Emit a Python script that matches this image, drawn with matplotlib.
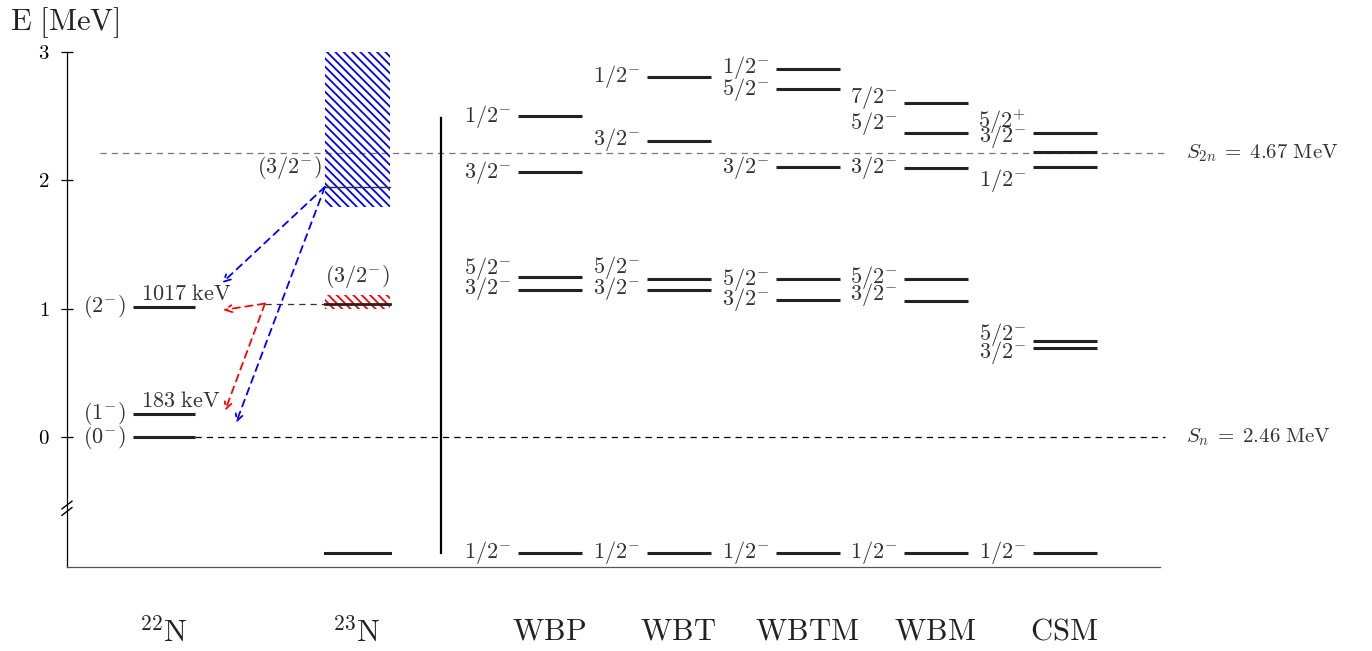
import matplotlib
matplotlib.use("Agg")
import matplotlib.pyplot as plt

plt.rcParams['font.family'] = 'serif'
plt.rcParams['font.serif'] = ['cmr10', 'DejaVu Serif']
plt.rcParams['mathtext.fontset'] = 'cm'
plt.rcParams['axes.formatter.use_mathtext'] = True
plt.rcParams['hatch.linewidth'] = 1.3

# energie poziomow [MeV] (wzgledem progu S_n w 23N)
e22 = [0.0, 0.183, 1.017]
lab22 = [r'$(0^{-})$', r'$(1^{-})$', r'$(2^{-})$']
kev22 = ['', r'$183\ \mathrm{keV}$', r'$1017\ \mathrm{keV}$']

e23_ground = -0.9
e23_blue = 1.95
blue_band = (1.79, 3.0)
e23_red = 1.04
red_band = (1.0, 1.11)

models = ['WBP', 'WBT', 'WBTM', 'WBM', 'CSM']
levels = {
    'WBP':  [-0.9, 1.146, 1.247, 2.065, 2.50],
    'WBT':  [-0.9, 1.146, 1.231, 2.307, 2.806],
    'WBTM': [-0.9, 1.068, 1.231, 2.104, 2.712, 2.868],
    'WBM':  [-0.9, 1.060, 1.231, 2.097, 2.369, 2.603],
    'CSM':  [-0.9, 0.694, 0.748, 2.104, 2.221, 2.369],
}
spins = {
    'WBP':  ['1/2^{-}', '3/2^{-}', '5/2^{-}', '3/2^{-}', '1/2^{-}'],
    'WBT':  ['1/2^{-}', '3/2^{-}', '5/2^{-}', '3/2^{-}', '1/2^{-}'],
    'WBTM': ['1/2^{-}', '3/2^{-}', '5/2^{-}', '3/2^{-}', '5/2^{-}', '1/2^{-}'],
    'WBM':  ['1/2^{-}', '3/2^{-}', '5/2^{-}', '3/2^{-}', '5/2^{-}', '7/2^{-}'],
    'CSM':  ['1/2^{-}', '3/2^{-}', '5/2^{-}', '1/2^{-}', '3/2^{-}', '5/2^{+}'],
}
# przesuniecia etykiet w pionie [pt], zeby sie nie nakladaly
nudge = {
    'WBP':  [0, 1, 6, 0, 0],
    'WBT':  [0, 1, 8, 1, 0],
    'WBTM': [0, 0, 0, 0, 0, 1],
    'WBM':  [0, 5, 1, 0, 7, 4],
    'CSM':  [0, -3, 5, -10, 11, 8],
}

s2n = 2.213
s2n_lab = r'$S_{2n}\;=\;4.67\ \mathrm{MeV}$'
sn_lab = r'$S_n\;=\;2.46\ \mathrm{MeV}$'

# polozenia kolumn (lewa krawedz, szerokosc) w jednostkach osi x
x22 = (66, 62)
x23 = (258, 65)
xmod = {'WBP': 451, 'WBT': 580, 'WBTM': 709, 'WBM': 837, 'CSM': 966}
wmod = 64

fig = plt.figure(figsize=(13.72, 6.51), dpi=100)
ax = fig.add_axes([0.0488, 0.129, 0.7966, 0.791])
ax.set_xlim(0, 1093)
ax.set_ylim(-1.013, 3.0)

# progi
ax.plot([33, 1098], [s2n, s2n], ls=(0, (5, 4)), color='#777777', lw=0.9, clip_on=False, zorder=1)
ax.plot([128, 1098], [0, 0], ls=(0, (5, 4)), color='black', lw=0.9, clip_on=False, zorder=1)
ax.text(1119, s2n, s2n_lab, fontsize=15, va='center', ha='left', color='#333333')
ax.text(1119, 0, sn_lab, fontsize=15, va='center', ha='left', color='#333333')

# 22N
for e, lb, kv in zip(e22, lab22, kev22):
    ax.plot([x22[0], x22[0] + x22[1]], [e, e], color='#222222', lw=2.2, solid_capstyle='butt')
    ax.text(x22[0] - 7, e, lb, fontsize=16, ha='right', va='center', color='#333333')
    if kv:
        ax.text(x22[0] + 8, e + 0.02, kv, fontsize=16, ha='left', va='bottom', color='#333333')

# 23N
ax.plot([x23[0], x23[0] + x23[1]], [e23_ground, e23_ground], color='#222222', lw=2.2)
ax.fill_between([x23[0], x23[0] + x23[1]], blue_band[0], blue_band[1], facecolor='none',
                edgecolor='blue', hatch='\\' * 4, lw=0, zorder=2)
ax.plot([x23[0], x23[0] + x23[1]], [e23_blue, e23_blue], color='#333333', lw=1.0, zorder=3)
ax.text(x23[0] - 3, e23_blue + 0.15, r'$(3/2^{-})$', fontsize=16, ha='right', va='center', color='#333333')
ax.fill_between([x23[0], x23[0] + x23[1]], red_band[0], red_band[1], facecolor='none',
                edgecolor='red', hatch='\\' * 4, lw=0, zorder=2)
ax.plot([x23[0], x23[0] + x23[1]], [e23_red, e23_red], color='#222222', lw=2.0, zorder=3)
ax.text(x23[0] + x23[1] / 2, 1.25, r'$(3/2^{-})$', fontsize=16, ha='center', va='center', color='#333333')
ax.plot([198, 258], [e23_red, e23_red], ls=(0, (5, 4)), color='#333333', lw=0.9)

# przejscia
arr = [((258, e23_blue), (155, 1.20), 'blue'),
       ((258, e23_blue), (169, 0.109), 'blue'),
       ((198, e23_red), (156, 0.99), 'red'),
       ((198, e23_red), (158, 0.203), 'red')]
for start, end, c in arr:
    ax.annotate('', xy=end, xytext=start,
                arrowprops=dict(arrowstyle='->,head_length=0.5,head_width=0.25', ls=(0, (4, 3)),
                                color=c, lw=1.3, shrinkA=0, shrinkB=0))

ax.plot([374, 374], [-0.9, 2.49], color='black', lw=1.6)

# modele
for m in models:
    x0 = xmod[m]
    for e, s, dy in zip(levels[m], spins[m], nudge[m]):
        ax.plot([x0, x0 + wmod], [e, e], color='#222222', lw=2.2, solid_capstyle='butt')
        ax.annotate(r'$' + s + r'$', xy=(x0 - 7, e), xytext=(0, dy), textcoords='offset points',
                    fontsize=16, ha='right', va='center', color='#333333')

# podpisy kolumn
names = [r'$^{22}\mathrm{N}$', r'$^{23}\mathrm{N}$'] + [r'$\mathrm{' + m + '}$' for m in models]
cx = [96, 289] + [xmod[m] + wmod / 2 - 1 for m in models]
for n, x in zip(names, cx):
    ax.text(x, -1.52, n, fontsize=22, ha='center', va='center', color='#222222')

fig.text(0.007, 0.966, r'$\mathrm{E\ [MeV]}$', fontsize=22, ha='left', va='center', color='#222222')

ax.spines['top'].set_visible(False)
ax.spines['right'].set_visible(False)
ax.spines['left'].set_linewidth(0.9)
ax.spines['bottom'].set_linewidth(0.9)
ax.spines['bottom'].set_color('#555555')
ax.set_xticks([])
ax.set_yticks([0, 1, 2, 3])
ax.set_yticklabels([r'$0$', r'$1$', r'$2$', r'$3$'])
ax.tick_params(axis='y', direction='inout', length=9, width=0.9, labelsize=15, pad=8)

# przerwa na osi
for dy in (-0.53, -0.58):
    ax.plot([-5, 5], [dy - 0.03, dy + 0.03], color='black', lw=1.0, clip_on=False)

fig.savefig('out.png', dpi=100)
